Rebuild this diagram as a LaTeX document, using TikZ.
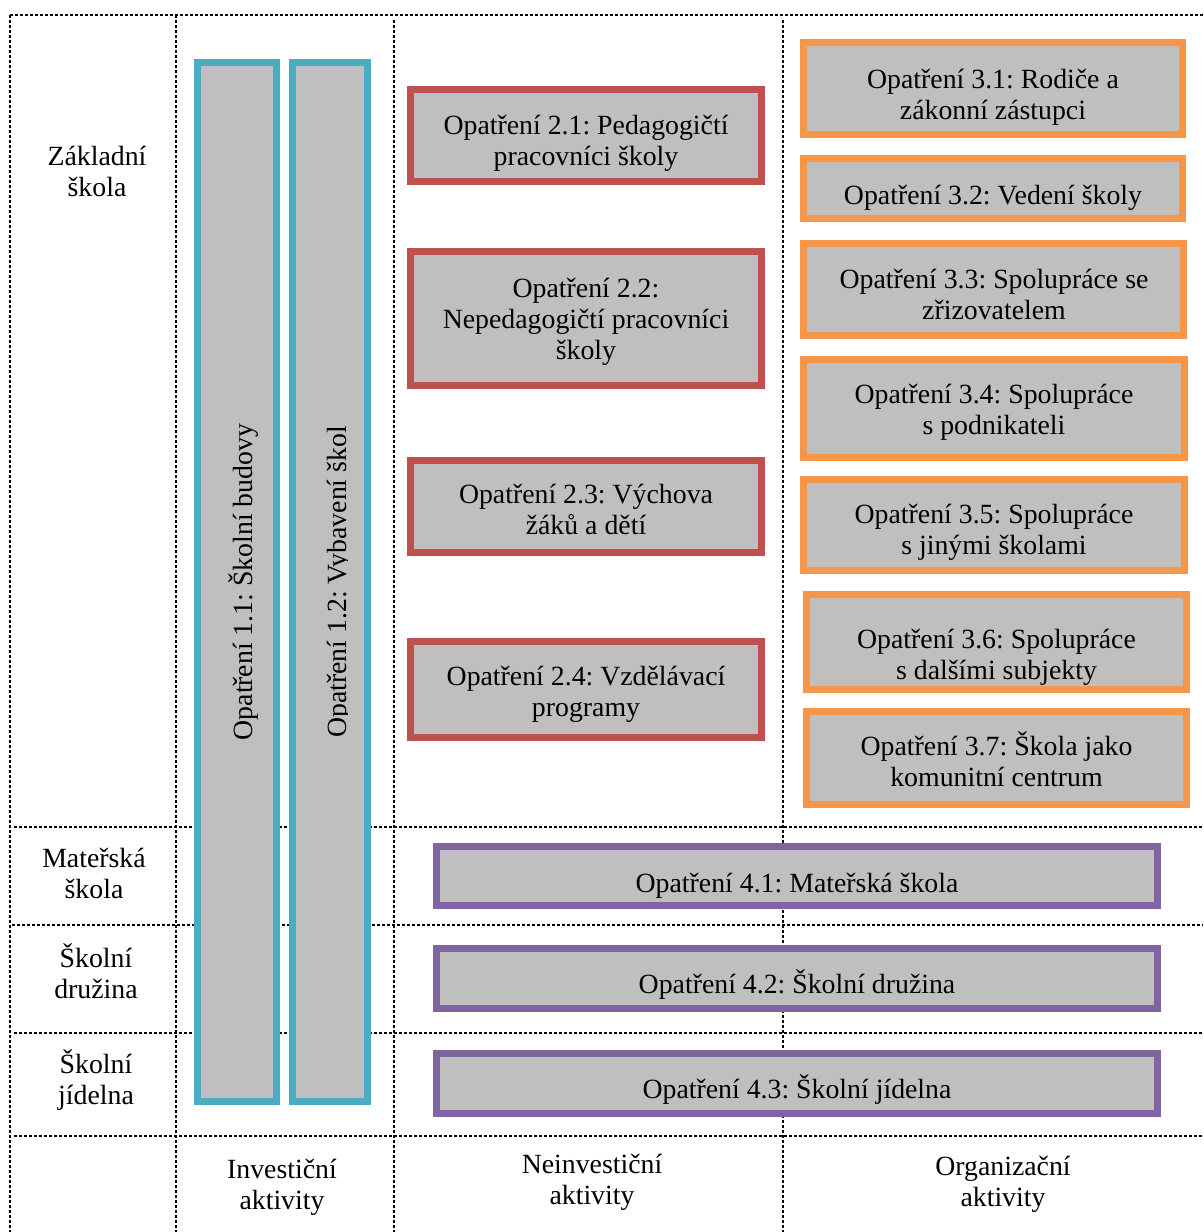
\documentclass[tikz,border=0pt]{standalone}
\usepackage{fontspec}
\setmainfont{Liberation Serif}
\definecolor{cblue}{HTML}{4BACC6}
\definecolor{cred}{HTML}{C0504D}
\definecolor{corange}{HTML}{F79646}
\definecolor{cpurple}{HTML}{8064A2}
\definecolor{cgray}{HTML}{BFBFBF}
\newcommand\ml[1]{\vtop{\halign{\hfil##\hfil\cr#1\crcr}}}
\begin{document}
\frenchspacing
\begin{tikzpicture}[x=1pt,y=-1pt,
  gridline/.style={line width=2.8pt, dash pattern=on 2.6pt off 2.4pt, black},
  boxbase/.style={fill=cgray, line width=7pt},
  bluebox/.style={boxbase, draw=cblue},
  redbox/.style={boxbase, draw=cred},
  orangebox/.style={boxbase, draw=corange},
  purplebox/.style={boxbase, draw=cpurple},
  txt/.style={font=\fontsize{27.8}{31}\selectfont\frenchspacing, inner sep=0pt, outer sep=0pt, text=black, anchor=base}]
\useasboundingbox (0,0) rectangle (1203,1232);
% grid
\draw[gridline] (10,15) -- (1203,15);
\draw[gridline] (10,15) -- (10,1232);
\draw[gridline] (176,15) -- (176,1232);
\draw[gridline] (394,20) -- (394,1232);
\draw[gridline] (783,20) -- (783,1232);
\draw[gridline] (14,827) -- (1203,827);
\draw[gridline] (12,925) -- (1203,925);
\draw[gridline] (14,1033) -- (1203,1033);
\draw[gridline] (14,1136) -- (1203,1136);
% blue boxes
\draw[bluebox] (197.5,62.5) rectangle (276.5,1101.5);
\draw[bluebox] (292.5,62.5) rectangle (367.5,1101.5);
\node[txt, rotate=90] (t11) at (252,582) {Opatření 1.1: Školní budovy};
\begin{scope}
\clip (292,60) rectangle (347.5,1105);
\node[txt, rotate=90] (t12) at (346,582) {Opatření 1.2: Vybavení škol};
\end{scope}
% red boxes
\draw[redbox] (410.5,89.5) rectangle (761.5,181.5);
\node[txt] (t21) at (586,134) {\ml{Opatření 2.1: Pedagogičtí\cr pracovníci školy}};
\draw[redbox] (410.5,251.5) rectangle (761.5,385.5);
\node[txt] (t22) at (586,297) {\ml{Opatření 2.2:\cr Nepedagogičtí pracovníci\cr školy}};
\draw[redbox] (410.5,460.5) rectangle (761.5,552.5);
\node[txt] (t23) at (586,503) {\ml{Opatření 2.3: Výchova\cr žáků a dětí}};
\draw[redbox] (410.5,641.5) rectangle (761.5,737.5);
\node[txt] (t24) at (586,685) {\ml{Opatření 2.4: Vzdělávací\cr programy}};
% orange boxes
\draw[orangebox] (803.5,42.5) rectangle (1182.5,134.5);
\node[txt] (t31) at (993,88) {\ml{Opatření 3.1: Rodiče a\cr zákonní zástupci}};
\draw[orangebox] (803.5,158.5) rectangle (1182.5,218.5);
\node[txt] (t32) at (993,204) {Opatření 3.2: Vedení školy};
\draw[orangebox] (803.5,243.5) rectangle (1183.5,335.5);
\node[txt] (t33) at (994,288) {\ml{Opatření 3.3: Spolupráce se\cr zřizovatelem}};
\draw[orangebox] (803.5,359.5) rectangle (1184.5,457.5);
\node[txt] (t34) at (994,403) {\ml{Opatření 3.4: Spolupráce\cr s podnikateli}};
\draw[orangebox] (803.5,479.5) rectangle (1184.5,570.5);
\node[txt] (t35) at (994,523) {\ml{Opatření 3.5: Spolupráce\cr s jinými školami}};
\draw[orangebox] (806.5,594.5) rectangle (1186.5,689.5);
\node[txt] (t36) at (996.5,648) {\ml{Opatření 3.6: Spolupráce\cr s dalšími subjekty}};
\draw[orangebox] (806.5,711.5) rectangle (1186.5,804.5);
\node[txt] (t37) at (996.5,755) {\ml{Opatření 3.7: Škola jako\cr komunitní centrum}};
% purple boxes
\draw[purplebox] (436.5,846.5) rectangle (1157.5,905.5);
\node[txt] (t41) at (797,892) {Opatření 4.1: Mateřská škola};
\draw[purplebox] (436.5,948.5) rectangle (1157.5,1008.5);
\node[txt] (t42) at (797,993) {Opatření 4.2: Školní družina};
\draw[purplebox] (436.5,1053.5) rectangle (1157.5,1113.5);
\node[txt] (t43) at (797,1098) {Opatření 4.3: Školní jídelna};
% row labels
\node[txt] (r1) at (97,165) {\ml{Základní\cr škola}};
\node[txt] (r2) at (94,867) {\ml{Mateřská\cr škola}};
\node[txt] (r3) at (96,967) {\ml{Školní\cr družina}};
\node[txt] (r4) at (96,1073) {\ml{Školní\cr jídelna}};
% column labels
\node[txt] (c1) at (282,1178) {\ml{Investiční\cr aktivity}};
\node[txt] (c2) at (592,1173) {\ml{Neinvestiční\cr aktivity}};
\node[txt] (c3) at (1003,1175) {\ml{Organizační\cr aktivity}};
\end{tikzpicture}
\end{document}
